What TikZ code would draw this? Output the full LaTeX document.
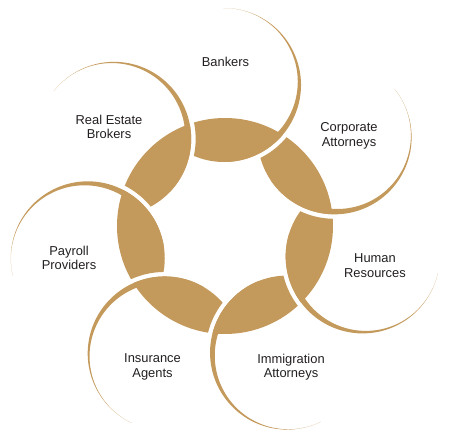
\documentclass[tikz,border=0pt]{standalone}
\usepackage{fontspec}
\setmainfont{Liberation Sans}
\usepackage{tikz}
\usetikzlibrary{calc}

\definecolor{gold}{RGB}{196,154,92}
\definecolor{ink}{RGB}{35,31,32}

\tikzset{
  partner/.style={font=\fontsize{12.9}{14.5}\selectfont, text=ink, align=center, inner sep=0pt}
}

\begin{document}
\begin{tikzpicture}[x=1pt,y=1pt]
    \useasboundingbox (-225,-212) rectangle (225,226);

    % thin tapering outlines
    \foreach \k in {0,...,6} {
        \pgfmathsetmacro{\dir}{90.4-51.43*\k}
        \fill [gold] plot [domain=0:-185, samples=90]
            ({141*cos(\dir)+77*cos(\dir+\x)}, {141*sin(\dir)+77*sin(\dir+\x)})
            -- plot [domain=-185:0, samples=90]
            ({141*cos(\dir)+(77-3.3*(1-cos(\x)))*cos(\dir+\x)}, {141*sin(\dir)+(77-3.3*(1-cos(\x)))*sin(\dir+\x)}) -- cycle;
    }

    % ring pieces
    \foreach \k in {0,...,6} {
        \pgfmathsetmacro{\dir}{90.4-51.43*\k}
        \pgfmathsetmacro{\prv}{\dir+51.43}
        \begin{scope}
            \clip (0,0) circle (108);
            \clip (\dir:141) circle (77);
            \begin{scope}[even odd rule]
                \clip (-230,-230) rectangle (230,230) (\prv:141) circle (81.5);
                \fill [gold] (-230,-230) rectangle (230,230);
            \end{scope}
        \end{scope}
    }

    \node [partner] (bankers) at (0.5,164) {Bankers};
    \node [partner] (corporate) at (124,90) {Corporate\\Attorneys};
    \node [partner] (hr) at (150,-39.5) {Human\\Resources};
    \node [partner] (immigration) at (66,-141) {Immigration\\Attorneys};
    \node [partner] (insurance) at (-72.5,-141) {Insurance\\Agents};
    \node [partner] (payroll) at (-156,-32) {Payroll\\Providers};
    \node [partner] (realestate) at (-116,99) {Real Estate\\Brokers};
\end{tikzpicture}
\end{document}
